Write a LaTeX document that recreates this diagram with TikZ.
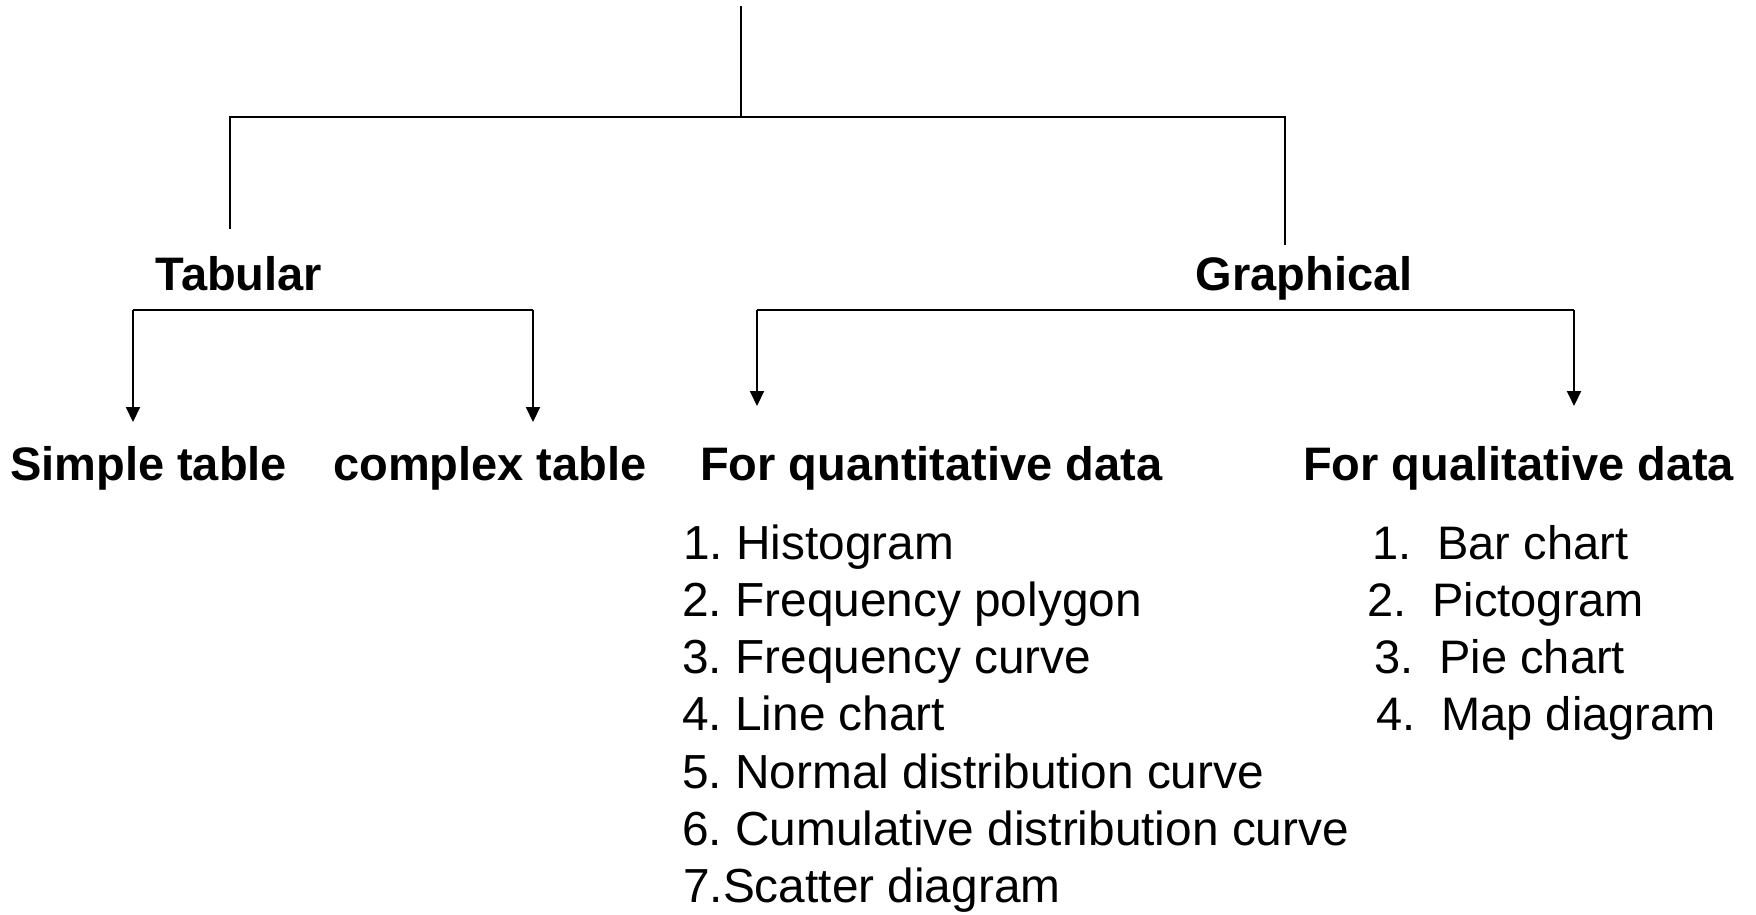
\documentclass[tikz,border=0pt]{standalone}
\usepackage{fontspec}
\setmainfont{Liberation Sans}
\usetikzlibrary{arrows.meta}
\frenchspacing
\begin{document}
\begin{tikzpicture}[x=1pt,y=-1pt,
  conn/.style={line width=2pt},
  arr/.style={line width=2pt,-{Triangle[length=15pt,width=14pt]}},
  head/.style={inner sep=0pt,anchor=base,font=\fontsize{47}{56}\selectfont\bfseries},
  headw/.style={inner sep=0pt,anchor=base west,font=\fontsize{47}{56}\selectfont\bfseries},
  item/.style={inner sep=0pt,anchor=base west,font=\fontsize{47}{56}\selectfont\frenchspacing},
  itemq/.style={inner sep=0pt,anchor=base west,font=\fontsize{47.8}{56}\selectfont\frenchspacing}]
\useasboundingbox (0,0) rectangle (1756,914);
% tree lines
\coordinate (root) at (741,6);
\coordinate (j) at (741,117);
\coordinate (jl) at (230,117);
\coordinate (jr) at (1285,117);
\coordinate (lend) at (230,229);
\coordinate (rend) at (1285,245);
\draw[conn] (root) -- (j);
\draw[conn] (lend) -- (jl) -- (jr) -- (rend);
% headings
\node[head] (tab) at (239,290) {Tabular};
\node[head] (gra) at (1304,290) {Graphical};
% tabular bracket
\coordinate (tl) at (133,310);
\coordinate (tr) at (533,310);
\coordinate (tla) at (133,422);
\coordinate (tra) at (533,422);
\draw[conn] (tl) -- (tr);
\draw[arr] (tl) -- (tla);
\draw[arr] (tr) -- (tra);
% graphical bracket
\coordinate (gl) at (757,310);
\coordinate (gr) at (1574,310);
\coordinate (gla) at (757,406);
\coordinate (gra2) at (1574,406);
\draw[conn] (gl) -- (gr);
\draw[arr] (gl) -- (gla);
\draw[arr] (gr) -- (gra2);
% sub headings
\node[headw] (simple) at (10,480) {Simple table};
\node[headw] (complex) at (333,480) {complex table};
\node[headw] (quant) at (700,480) {For quantitative data};
\node[headw] (qual) at (1303,480) {For qualitative data};
% quantitative list
\node[itemq] (q1) at (683,559) {1. Histogram};
\node[itemq] (q2) at (682,616.3) {2. Frequency polygon};
\node[itemq] (q3) at (682,673.6) {3. Frequency curve};
\node[itemq] (q4) at (682,730.9) {4. Line chart};
\node[itemq] (q5) at (682,788.2) {5. Normal distribution curve};
\node[itemq] (q6) at (682,845.5) {6. Cumulative distribution curve};
\node[itemq] (q7) at (683,902.8) {7.Scatter diagram};
% qualitative list
\node[item] (l1) at (1372,559) {1.\ \ Bar chart};
\node[item] (l2) at (1367,616.3) {2.\ \ Pictogram};
\node[item] (l3) at (1374,673.6) {3.\ \ Pie chart};
\node[item] (l4) at (1376,730.9) {4.\ \ Map diagram};
\end{tikzpicture}
\end{document}
